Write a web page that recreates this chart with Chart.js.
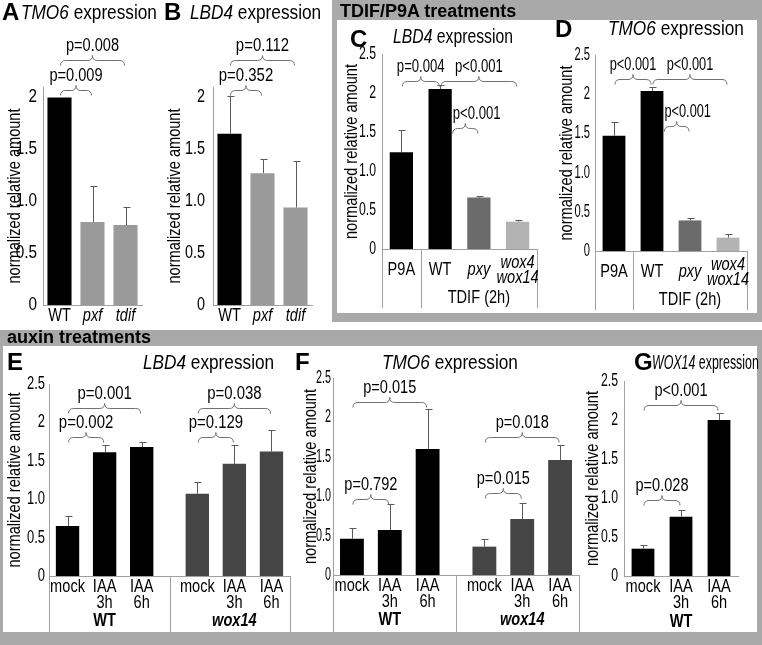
<!DOCTYPE html>
<html><head><meta charset="utf-8">
<script src="https://cdn.jsdelivr.net/npm/chart.js@4.4.1/dist/chart.umd.min.js"></script>
<style>
html,body{margin:0;padding:0;background:#fff}
body{width:762px;height:645px;position:relative;overflow:hidden}
.fr{position:absolute;box-sizing:border-box;border:0 solid #a9a9a9}
canvas{position:absolute;left:0;top:0}
.tx{position:absolute;white-space:nowrap;line-height:1;color:#000}
.ti{font-family:'Liberation Sans',Arial,sans-serif;font-size:21px;transform:scaleX(0.82);transform-origin:0 0}
.L{font-family:'Liberation Sans',Arial,sans-serif;font-weight:bold;font-size:24px}
.H{font-family:'Liberation Sans',Arial,sans-serif;font-weight:bold;font-size:18px}
</style></head><body>
<div class="fr" style="left:332px;top:0;width:430px;height:322px;border-width:20px 5px 9px 5px"></div>
<div class="fr" style="left:0;top:330px;width:762px;height:315px;border-width:16px 5px 13px 3px"></div>
<canvas id="cA" width="762" height="645"></canvas>
<canvas id="cB" width="762" height="645"></canvas>
<canvas id="cC" width="762" height="645"></canvas>
<canvas id="cD" width="762" height="645"></canvas>
<canvas id="cE" width="762" height="645"></canvas>
<canvas id="cF" width="762" height="645"></canvas>
<canvas id="cG" width="762" height="645"></canvas>
<div class="tx H" style="left:340px;top:2px">TDIF/P9A treatments</div>
<div class="tx H" style="left:7px;top:328px">auxin treatments</div>
<div class="tx L" style="left:2px;top:0px">A</div>
<div class="tx ti" style="left:21px;top:1px"><i>TMO6</i> expression</div>
<div class="tx L" style="left:164px;top:0px">B</div>
<div class="tx ti" style="left:190px;top:1px"><i>LBD4</i> expression</div>
<div class="tx L" style="left:350px;top:27px">C</div>
<div class="tx ti" style="left:393px;top:25px;transform:scaleX(0.75)"><i>LBD4</i> expression</div>
<div class="tx L" style="left:555px;top:17px">D</div>
<div class="tx ti" style="left:608px;top:17px"><i>TMO6</i> expression</div>
<div class="tx L" style="left:7px;top:350px">E</div>
<div class="tx ti" style="left:143px;top:351px"><i>LBD4</i> expression</div>
<div class="tx L" style="left:295px;top:350px">F</div>
<div class="tx ti" style="left:382px;top:351px"><i>TMO6</i> expression</div>
<div class="tx L" style="left:634px;top:350px">G</div>
<div class="tx ti" style="left:652px;top:352px;font-size:20px;transform:scaleX(0.62)"><i>WOX14</i> expression</div>
<script>
// ---------------- data ----------------
const yTicks = ['0', '0.5', '1.0', '1.5', '2', '2.5'];
const yTitle = 'normalized relative amount';

// A: TMO6 expression (mutants)
const catA = ['WT', 'pxf', 'tdif'];
const italA = [0, 1, 1];
const valA = [2.00, 0.80, 0.77];
const errA = [0.00, 0.35, 0.17];
const braceA = [[0, 1, 2.07, 'p=0.009'], [0, 2, 2.36, 'p=0.008']];

// B: LBD4 expression (mutants)
const catB = ['WT', 'pxf', 'tdif'];
const italB = [0, 1, 1];
const valB = [1.65, 1.27, 0.94];
const errB = [0.36, 0.14, 0.45];
const braceB = [[0, 1, 2.07, 'p=0.352'], [0, 2, 2.36, 'p=0.112']];

// C/D: TDIF/P9A treatments
const catCD = ['P9A', 'WT', 'pxy', 'wox4\nwox14'];
const italCD = [0, 0, 1, 1];
const groupCD = ['', 'TDIF (2h)'];
const valC = [1.24, 2.05, 0.66, 0.35];
const errC = [0.29, 0.05, 0.02, 0.02];
const braceC = [[0, 1, 2.15, 'p=0.004'], [1, 3, 2.15, 'p<0.001'], [1, 2, 1.55, 'p<0.001', 1]];
const valD = [1.47, 2.04, 0.39, 0.17];
const errD = [0.18, 0.05, 0.03, 0.05];
const braceD = [[0, 1, 2.2, 'p<0.001'], [1, 3, 2.2, 'p<0.001'], [1, 2, 1.59, 'p<0.001', 1]];

// E/F/G: auxin treatments
const catAux = ['mock', 'IAA\n3h', 'IAA\n6h'];
const groupAux = ['WT', 'wox14'];
const valE_WT = [0.65, 1.61, 1.68];
const errE_WT = [0.13, 0.09, 0.06];
const valE_wox14 = [1.07, 1.46, 1.62];
const errE_wox14 = [0.15, 0.25, 0.28];
const braceE = [[0, 1, 1.81, 'p=0.002'], [0, 2, 2.19, 'p=0.001'], [3, 4, 1.81, 'p=0.129'], [3, 5, 2.19, 'p=0.038']];
const valF_WT = [0.46, 0.57, 1.60];
const errF_WT = [0.14, 0.33, 0.51];
const valF_wox14 = [0.36, 0.71, 1.46];
const errF_wox14 = [0.10, 0.21, 0.19];
const braceF = [[0, 1, 0.97, 'p=0.792'], [0, 2, 2.19, 'p=0.015'], [3, 4, 1.04, 'p=0.015'], [3, 5, 1.75, 'p=0.018']];
const valG = [0.35, 0.76, 2.00];
const errG = [0.05, 0.08, 0.09];
const braceG = [[0, 1, 0.97, 'p=0.028'], [0, 2, 2.19, 'p<0.001']];

// ---------------- drawing ----------------
const FAM = "'Liberation Sans',Arial,sans-serif";
const SX = 0.81;          // horizontal condensing of the text
const AXIS = '#a0a0a0';
const ERRC = '#5a5a5a';
const BRC = '#707070';
const GAP = 0.5;

function ctext(ctx, s, x, y, font, align, sx) {
  ctx.save();
  ctx.font = font;
  ctx.textAlign = align || 'center';
  ctx.textBaseline = 'middle';
  ctx.fillStyle = '#000';
  ctx.translate(x, y);
  ctx.scale(sx || SX, 1);
  ctx.fillText(s, 0, 0);
  ctx.restore();
}

function brace(ctx, x1, x2, y) {
  const h = 5, m = (x1 + x2) / 2;
  ctx.beginPath();
  ctx.moveTo(x1, y + h);
  ctx.quadraticCurveTo(x1, y, x1 + h, y);
  ctx.lineTo(m - h, y);
  ctx.quadraticCurveTo(m, y, m, y - h);
  ctx.quadraticCurveTo(m, y, m + h, y);
  ctx.lineTo(x2 - h, y);
  ctx.quadraticCurveTo(x2, y, x2, y + h);
  ctx.stroke();
}

function overlay(p) {
  return {
    id: 'ov',
    afterDraw(chart) {
      const ctx = chart.ctx, ys = chart.scales.y, ca = chart.chartArea;
      const bars = chart.getDatasetMeta(0).data;
      const F18 = '18px ' + FAM;
      ctx.save();
      // y tick labels
      ys.ticks.forEach((t, i) => {
        ctext(ctx, yTicks[i], ca.left - p.tp, ys.getPixelForValue(t.value), F18, 'right', p.tsx);
      });
      // error bars
      ctx.strokeStyle = ERRC; ctx.lineWidth = 1;
      bars.forEach((el, k) => {
        const e = p.err[k]; if (!e) return;
        const x = Math.round(el.x) + 0.5;
        const yt = Math.round(ys.getPixelForValue(p.val[k] + e)) + 0.5;
        ctx.beginPath(); ctx.moveTo(x, el.y); ctx.lineTo(x, yt);
        ctx.moveTo(x - 3, yt); ctx.lineTo(x + 4, yt); ctx.stroke();
      });
      // table lines
      if (p.tbl) {
        ctx.strokeStyle = AXIS;
        const xsL = [ca.left, ca.right];
        p.tbl.div.forEach(k => xsL.push((bars[k].x + bars[k + 1].x) / 2));
        xsL.forEach(x => {
          const xx = Math.round(x) + 0.5;
          ctx.beginPath(); ctx.moveTo(xx, ca.bottom); ctx.lineTo(xx, p.tbl.bottom); ctx.stroke();
        });
      }
      // braces + p labels
      p.br.forEach(b => {
        const A = bars[b[0]], B = bars[b[1]];
        let x1 = A.x + 1, x2 = B.x - 1;
        if (b[4]) x1 = A.x + A.width / 2 + 1;
        const y = Math.round(ys.getPixelForValue(b[2])) + 0.5;
        ctx.strokeStyle = BRC;
        brace(ctx, x1, x2, y);
        if (b[4]) ctext(ctx, b[3], x1, y - 14, F18, 'left', p.psx);
        else ctext(ctx, b[3], (x1 + x2) / 2, y - 14, F18, 'center', p.psx);
      });
      // category labels
      bars.forEach((el, k) => {
        const lines = p.cat[k].split('\n');
        const y0 = p.catCenter ? ca.bottom + p.catOff - (lines.length - 1) * p.lh / 2 : ca.bottom + p.catOff;
        const f = (p.ital[k] ? 'italic ' : '') + F18;
        lines.forEach((s, j) => ctext(ctx, s, el.x, y0 + j * p.lh, f));
      });
      // group labels
      (p.grp || []).forEach(g => {
        if (!g.t) return;
        ctext(ctx, g.t, (bars[g.a].x + bars[g.b].x) / 2, ca.bottom + p.grpOff, g.f + ' ' + F18);
      });
      // y title
      ctx.translate(ca.left + p.ytx, (ca.top + ca.bottom) / 2 + (p.yty || 0));
      ctx.rotate(-Math.PI / 2);
      ctext(ctx, yTitle, 0, 0, F18);
      ctx.restore();
    }
  };
}

function makeChart(id, p) {
  const xs = p.xs;
  new Chart(document.getElementById(id), {
    type: 'bar',
    data: {
      datasets: [{
        data: p.val.map((v, k) => ({ x: xs[k], y: v })),
        backgroundColor: p.colors, borderWidth: 0,
        barPercentage: p.bp, categoryPercentage: 1
      }]
    },
    options: {
      responsive: false, animation: false, devicePixelRatio: 1,
      events: [],
      layout: { padding: { left: p.l, top: p.t, right: 762 - p.r, bottom: 645 - p.b } },
      plugins: { legend: { display: false }, tooltip: { enabled: false } },
      scales: {
        x: {
          type: 'linear', min: -0.5, max: xs[xs.length - 1] + 0.5, offset: false,
          grid: { display: false }, border: { display: true, color: AXIS },
          ticks: { display: false, stepSize: 1, includeBounds: false },
          afterFit: s => { s.height = 0; }
        },
        y: {
          type: 'linear', min: 0, max: p.ymax,
          grid: { display: false }, border: { display: true, color: AXIS },
          ticks: { display: false, stepSize: 0.5, includeBounds: false, autoSkip: false },
          afterFit: s => { s.width = 0; }
        }
      }
    },
    plugins: [overlay(p)]
  });
}

const seq = n => Array.from({ length: n }, (_, i) => i);
const grouped = (ng, n) => { const r = []; for (let g = 0; g < ng; g++) for (let i = 0; i < n; i++) r.push(g * (n + GAP) + i); return r; };

// A
makeChart('cA', { l: 43, r: 142, t: 87, b: 305, ymax: 2.1, tp: 6, tsx: 0.85, psx: 0.81, ytx: -28, bp: 0.73,
  xs: seq(catA.length), val: valA, err: errA, br: braceA, cat: catA, ital: italA,
  colors: ['#000', '#9a9a9a', '#9a9a9a'], catOff: 11, lh: 16 });
// B
makeChart('cB', { l: 213, r: 312, t: 87, b: 305, ymax: 2.1, tp: 8, tsx: 0.8, psx: 0.83, ytx: -38, bp: 0.73,
  xs: seq(catB.length), val: valB, err: errB, br: braceB, cat: catB, ital: italB,
  colors: ['#000', '#9a9a9a', '#9a9a9a'], catOff: 11, lh: 16 });
// C
const colCD = ['#000', '#000', '#6b6b6b', '#b3b3b3'];
makeChart('cC', { l: 382, r: 537, t: 54, b: 249, ymax: 2.5, tp: 6, tsx: 0.68, psx: 0.73, ytx: -30, bp: 0.6,
  xs: seq(catCD.length), val: valC, err: errC, br: braceC, cat: catCD, ital: italCD,
  colors: colCD, catOff: 21, catCenter: true, lh: 15,
  grp: [{ t: groupCD[1], a: 1, b: 3, f: 'normal' }], grpOff: 49, tbl: { bottom: 308, div: [0] } });
// D
makeChart('cD', { l: 595, r: 747, t: 55, b: 251, ymax: 2.5, tp: 5, tsx: 0.62, psx: 0.71, ytx: -28, bp: 0.6,
  xs: seq(catCD.length), val: valD, err: errD, br: braceD, cat: catCD, ital: italCD,
  colors: colCD, catOff: 21, catCenter: true, lh: 15,
  grp: [{ t: groupCD[1], a: 1, b: 3, f: 'normal' }], grpOff: 49, tbl: { bottom: 310, div: [0] } });
// E
const colAux = ['#000', '#000', '#000', '#454545', '#454545', '#454545'];
makeChart('cE', { l: 49, r: 290, t: 384, b: 576, ymax: 2.5, tp: 4, tsx: 0.72, psx: 0.83, ytx: -34, bp: 0.63,
  xs: grouped(2, 3), val: valE_WT.concat(valE_wox14), err: errE_WT.concat(errE_wox14), br: braceE,
  cat: catAux.concat(catAux), ital: [0, 0, 0, 0, 0, 0], colors: colAux, catOff: 11, lh: 16,
  grp: [{ t: groupAux[0], a: 0, b: 2, f: 'bold' }, { t: groupAux[1], a: 3, b: 5, f: 'italic bold' }],
  grpOff: 45, tbl: { bottom: 632, div: [2] } });
// F
makeChart('cF', { l: 333, r: 579, t: 378, b: 575, ymax: 2.5, tp: 2, tsx: 0.6, psx: 0.81, ytx: -22, bp: 0.63,
  xs: grouped(2, 3), val: valF_WT.concat(valF_wox14), err: errF_WT.concat(errF_wox14), br: braceF,
  cat: catAux.concat(catAux), ital: [0, 0, 0, 0, 0, 0], colors: colAux, catOff: 11, lh: 16,
  grp: [{ t: groupAux[0], a: 0, b: 2, f: 'bold' }, { t: groupAux[1], a: 3, b: 5, f: 'italic bold' }],
  grpOff: 45, tbl: { bottom: 632, div: [2] } });
// G
makeChart('cG', { l: 624, r: 738, t: 381, b: 576, ymax: 2.5, tp: 6, tsx: 0.68, psx: 0.81, ytx: -31, bp: 0.6,
  xs: seq(catAux.length), val: valG, err: errG, br: braceG, cat: catAux, ital: [0, 0, 0],
  colors: ['#000', '#000', '#000'], catOff: 11, lh: 16,
  grp: [{ t: groupAux[0], a: 0, b: 2, f: 'bold' }], grpOff: 46 });
</script>
</body></html>
